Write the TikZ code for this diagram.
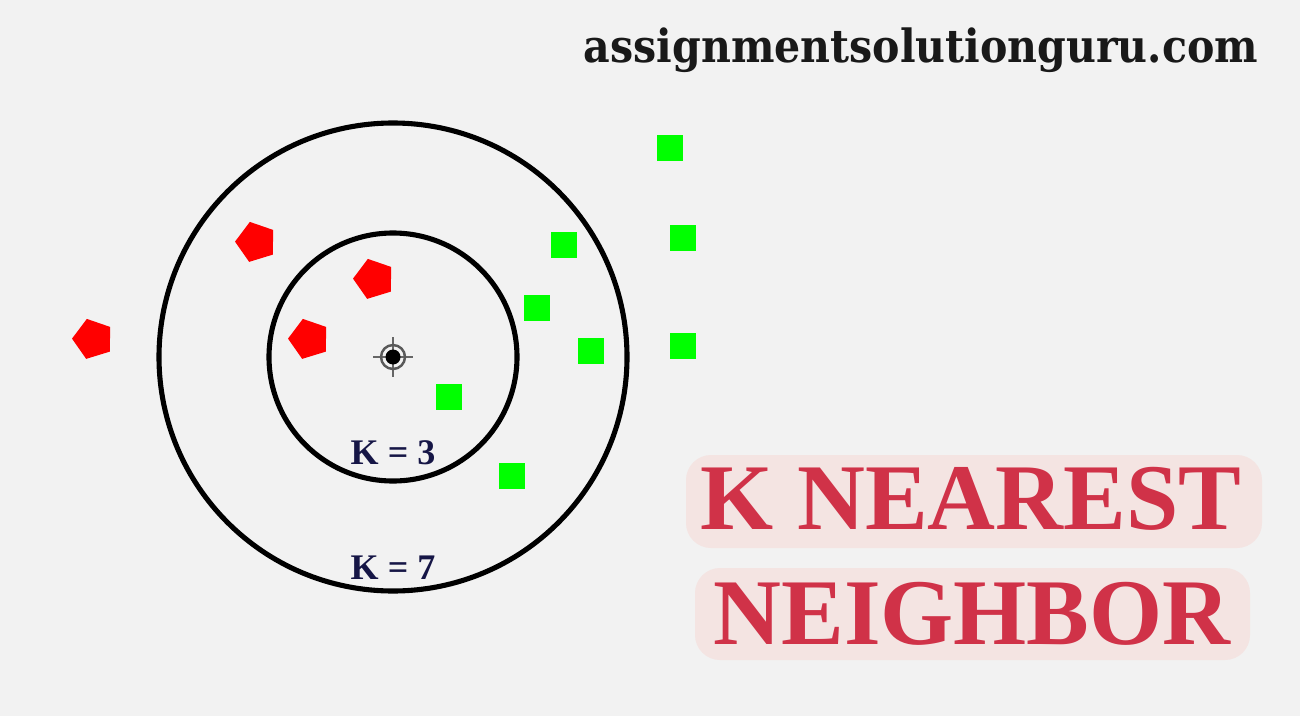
\documentclass[tikz,border=0pt]{standalone}
\usepackage{fontspec}
\setmainfont{Liberation Serif}
\newfontfamily\webfont{DejaVu Serif}
\usetikzlibrary{shapes.geometric,positioning}
\definecolor{bgray}{RGB}{242,242,242}
\definecolor{ptred}{RGB}{255,0,0}
\definecolor{ptgreen}{RGB}{0,255,0}
\definecolor{navyk}{RGB}{22,22,70}
\definecolor{titlered}{RGB}{208,50,72}
\definecolor{glowpink}{RGB}{244,228,226}

\tikzset{
  redpt/.style={regular polygon,regular polygon sides=5,fill=ptred,
    minimum size=0.84cm,inner sep=0pt,rotate=17},
  greenpt/.style={rectangle,fill=ptgreen,minimum size=0.52cm,inner sep=0pt},
  klabel/.style={text=navyk,font=\fontsize{20.5}{20.5}\selectfont\bfseries,inner sep=0pt},
  title/.style={text=titlered,font=\fontsize{53.5}{53.5}\selectfont\bfseries,inner sep=0pt},
  ring/.style={line width=2.9pt,black}
}

\begin{document}
\begin{tikzpicture}[x=0.02cm,y=-0.02cm]
        \fill[bgray] (0,0) rectangle (1300,716);
        \useasboundingbox (0,0) rectangle (1300,716);
        % website
        \node[inner sep=0pt,xscale=0.9,text=black!90,font=\webfont\bfseries\fontsize{26}{26}\selectfont] (site) at (921,50) {assignmentsolutionguru.com};
        % the two neighbourhoods
        \coordinate (query) at (393,357);
        \draw[ring] (query) circle (124);
        \draw[ring] (query) circle (234);
        % class A points
        \foreach \n/\px/\py in {a1/93/339,a2/256/242,a3/374/279,a4/309/339}{
          \node[redpt] (\n) at (\px,\py) {};
        }
        % class B points
        \foreach \n/\px/\py in {b1/670/148,b2/564/245,b3/683/238,b4/537/308,
                                b5/591/351,b6/683/346,b7/449/397,b8/512/476}{
          \node[greenpt] (\n) at (\px,\py) {};
        }
        % query point
        \draw[gray!80!black,line width=0.9pt] ([xshift=-0.4cm]query) -- ([xshift=0.4cm]query);
        \draw[gray!80!black,line width=0.9pt] ([yshift=-0.4cm]query) -- ([yshift=0.4cm]query);
        \draw[gray!70!black,line width=1.4pt] (query) circle (12);
        \fill[black] (query) circle (7.5);
        % labels
        \node[klabel] (k3) at (393,453) {K = 3};
        \node[klabel] (k7) at (393,568) {K = 7};
        % title
        \fill[glowpink,rounded corners=0.5cm] (686,455) rectangle (1262,548);
        \fill[glowpink,rounded corners=0.5cm] (695,568) rectangle (1250,660);
        \node[title] (t1) at (971,499) {K NEAREST};
        \node[title] (t2) at (972,614) {NEIGHBOR};
      \end{tikzpicture}
\end{document}
